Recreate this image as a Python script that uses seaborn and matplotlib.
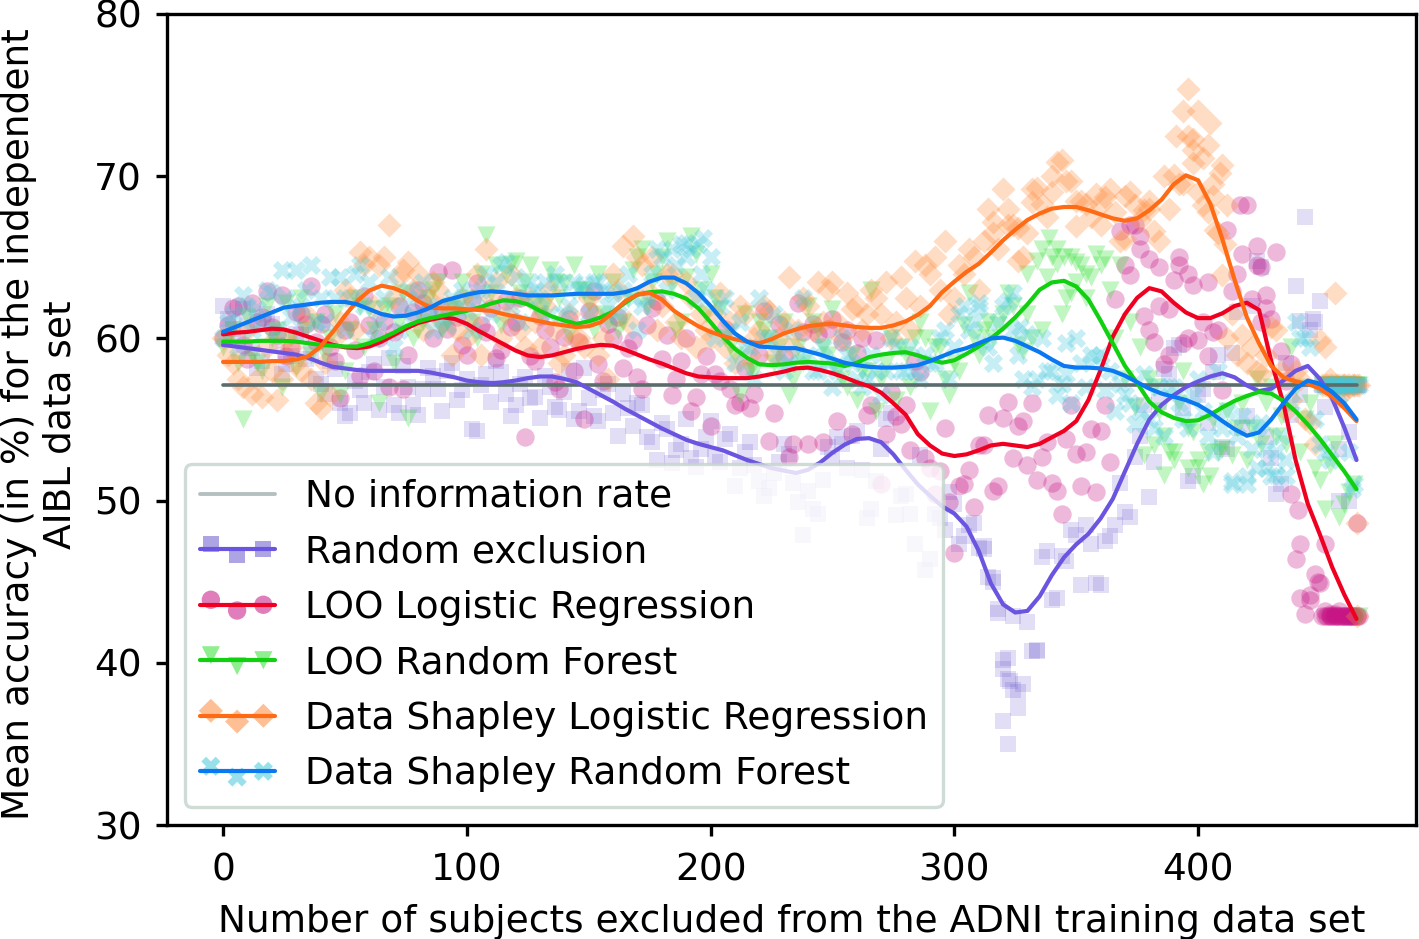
import matplotlib
matplotlib.use('Agg')
import matplotlib.pyplot as plt
import pandas as pd
import seaborn as sns
from matplotlib.legend_handler import HandlerTuple

# ---- smoothed curves, read every 5 subjects
line_x = list(range(0, 470, 5))
rand_line = [59.6,59.5,59.4,59.3,59.2,59.1,59.0,58.8,58.5,58.25,58.15,58.05,58.0,58.0,58.0,58.0,58.0,57.9,57.75,57.6,
             57.4,57.3,57.25,57.3,57.4,57.55,57.65,57.65,57.5,57.3,56.9,56.5,56.1,55.65,55.25,54.85,54.45,54.1,53.75,53.5,
             53.3,53.1,52.8,52.5,52.25,52.0,51.85,51.7,51.9,52.35,52.95,53.45,53.8,53.85,53.6,52.85,51.9,51.0,50.3,49.65,
             49.2,48.4,46.9,44.9,43.6,43.1,43.2,44.1,45.4,46.5,47.3,47.95,48.9,50.1,51.8,53.5,55.0,55.9,56.5,57.0,
             57.35,57.65,57.85,57.6,57.1,56.75,56.9,57.4,58.0,58.3,57.5,56.3,54.5,52.5]
loo_lr_line = [60.25,60.35,60.4,60.5,60.6,60.55,60.35,60.1,59.85,59.6,59.45,59.4,59.5,59.8,60.2,60.6,60.95,61.15,61.3,61.2,
               60.9,60.45,60.05,59.65,59.25,58.95,58.85,58.95,59.15,59.35,59.5,59.6,59.55,59.3,59.0,58.7,58.45,58.15,57.85,57.65,
               57.6,57.55,57.55,57.55,57.65,57.8,57.95,58.15,58.2,58.05,57.85,57.6,57.3,57.05,56.65,56.0,55.3,54.1,53.4,52.9,
               52.75,52.85,53.1,53.4,53.5,53.4,53.3,53.5,53.9,54.3,54.9,56.2,58.05,60.1,61.5,62.5,63.1,62.9,62.2,61.6,
               61.25,61.25,61.55,62.0,62.2,61.75,58.6,56.0,52.5,49.8,47.9,45.9,44.2,42.7]
loo_rf_line = [59.8,59.8,59.8,59.85,59.85,59.85,59.8,59.7,59.6,59.55,59.5,59.5,59.7,60.0,60.35,60.75,61.05,61.25,61.4,61.55,
               61.7,61.9,62.15,62.35,62.3,62.1,61.7,61.35,61.1,60.9,61.05,61.3,61.65,62.2,62.7,62.85,62.9,62.75,62.45,61.85,
               61.0,60.1,59.35,58.8,58.4,58.35,58.4,58.5,58.55,58.5,58.45,58.3,58.5,58.85,59.0,59.1,59.15,58.95,58.7,58.5,
               58.65,59.05,59.5,60.0,60.6,61.3,62.1,63.0,63.45,63.55,63.2,62.4,61.1,59.7,58.3,57.25,56.1,55.45,55.1,54.9,
               54.95,55.3,55.75,56.15,56.45,56.7,56.6,56.15,55.5,54.7,53.8,52.8,51.8,50.7]
shap_lr_line = [58.55,58.55,58.55,58.55,58.6,58.6,58.7,58.9,59.5,60.4,61.4,62.3,62.95,63.25,63.1,62.8,62.3,61.9,61.85,61.85,
                61.8,61.75,61.7,61.5,61.35,61.2,61.05,60.9,60.8,60.7,60.75,61.0,61.6,62.3,62.7,62.8,62.4,61.7,61.2,60.75,
                60.4,60.15,59.95,59.8,59.7,59.95,60.3,60.55,60.75,60.85,60.9,60.8,60.7,60.65,60.65,60.8,61.05,61.45,62.0,62.85,
                63.5,64.1,64.6,65.3,66.05,66.7,67.3,67.7,68.0,68.1,68.1,67.9,67.65,67.4,67.25,67.4,67.9,68.55,69.5,70.05,
                69.75,68.3,66.1,63.6,61.3,59.7,58.3,57.6,57.35,57.2,56.9,56.4,55.7,54.9]
shap_rf_line = [60.4,60.7,61.0,61.3,61.6,61.9,62.0,62.1,62.2,62.25,62.25,62.1,61.8,61.5,61.35,61.4,61.6,61.9,62.3,62.5,
                62.7,62.85,62.9,62.85,62.75,62.65,62.65,62.65,62.7,62.75,62.75,62.75,62.75,62.85,63.1,63.5,63.75,63.75,63.4,62.8,
                62.0,61.1,60.3,59.8,59.5,59.45,59.4,59.4,59.2,59.0,58.75,58.5,58.35,58.25,58.2,58.2,58.25,58.35,58.6,58.9,
                59.2,59.4,59.7,60.0,60.05,59.85,59.5,59.15,58.7,58.3,58.2,58.2,58.15,58.0,57.7,57.3,56.9,56.6,56.4,56.2,
                55.9,55.45,54.9,54.4,54.0,54.2,55.0,56.0,56.9,57.4,57.2,56.7,56.0,55.0]
no_info_x = [0, 465]
no_info = [57.1, 57.1]

# ---- single runs, read every 2 subjects (first the even fours, then the ones between)
point_x = list(range(0, 468, 4)) + list(range(2, 466, 4))
rand_pts = [62.0,60.6,61.8,59.4,58.6,60.9,57.8,58.9,60.2,59.1,
            57.2,58.6,56.0,55.4,56.8,57.9,55.6,58.8,55.4,57.0,
            55.3,58.2,56.9,58.0,56.2,57.5,54.3,57.8,58.6,56.6,
            55.9,57.6,56.4,57.7,55.8,56.7,55.0,58.2,55.2,56.8,
            55.4,56.6,54.6,55.9,53.6,54.8,52.3,53.5,52.6,53.2,
            54.9,52.4,54.1,52.0,53.6,51.2,50.8,52.4,52.9,49.9,
            50.6,49.2,53.3,53.9,52.0,54.3,48.9,51.2,55.0,49.1,
            50.4,47.3,45.7,49.2,48.2,49.8,47.8,48.6,47.2,45.0,
            39.6,42.9,38.7,40.7,46.5,43.9,46.6,48.2,44.8,47.3,
            44.8,47.8,51.1,49.0,54.0,50.2,56.1,57.8,59.6,51.2,
            56.5,54.8,59.0,53.2,61.6,55.2,64.8,53.9,50.4,58.5,
            63.2,67.5,61.0,55.8,57.1,57.1,57.1,
            61.2,59.9,60.8,58.2,61.5,59.6,58.4,60.3,58.7,57.5,
            56.6,58.1,55.2,57.4,56.0,58.4,57.0,55.9,58.3,55.9,
            56.9,57.7,55.5,58.5,56.8,54.4,57.1,56.1,57.9,55.2,
            57.2,56.3,55.1,57.0,55.6,58.0,55.5,56.3,54.9,57.2,
            54.0,55.7,56.0,53.9,52.5,54.4,53.1,55.0,52.1,53.9,
            52.7,53.8,50.9,53.0,52.2,50.3,51.7,53.5,51.1,47.9,
            49.5,51.3,52.6,53.5,54.0,51.9,49.5,53.2,55.4,50.3,
            49.2,52.8,46.4,48.9,50.5,47.3,
            48.5,47.1,45.3,43.1,40.3,38.2,42.5,40.7,46.9,44.0,
            46.3,47.9,48.5,44.9,47.5,48.5,49.3,52.7,55.9,52.4,
            58.1,59.4,55.7,51.5,56.9,57.9,53.3,59.1,54.5,62.0,
            64.4,52.6,51.0,55.3,61.1,60.5,62.3,57.1,50.0,54.2]
rand_extra_x = [322,320,326,324,322,318,320,323,334,316,312,442,447,462,458]
rand_extra_y = [35.0,36.4,37.2,38.3,39.0,43.3,40.2,38.9,40.8,45.2,47.0,56.5,61.2,50.0,53.2]

loo_lr_pts = [60.0,61.9,59.6,62.2,61.3,60.7,62.7,59.4,61.5,63.2,
              60.9,59.5,56.3,61.0,57.7,60.8,60.0,57.0,62.0,59.0,
              63.0,61.6,64.1,60.6,61.3,59.0,63.4,60.4,58.8,62.3,
              61.0,53.9,58.6,60.5,57.3,60.1,58.0,55.0,62.9,57.4,
              60.1,58.2,59.9,56.9,61.9,58.7,56.5,58.6,55.5,57.8,
              54.6,57.4,56.9,56.1,55.7,59.0,53.7,60.9,52.7,62.2,
              53.5,60.3,60.6,54.9,60.5,59.1,55.3,59.9,54.1,55.2,
              55.9,58.6,52.6,50.4,54.5,46.8,51.0,49.6,53.4,50.6,
              55.1,52.6,54.9,56.0,52.7,51.1,49.2,55.9,50.9,54.4,
              54.3,52.4,66.6,63.9,66.3,60.5,64.4,61.8,65.0,64.0,
              59.9,58.9,60.5,66.7,64.0,68.2,65.7,61.9,65.3,57.4,
              46.4,43.0,45.5,43.2,43.0,42.9,42.9,
              60.8,62.0,58.7,61.0,62.9,60.2,58.9,61.6,60.9,59.8,
              61.5,58.6,60.5,59.3,62.6,58.0,61.1,60.4,56.9,61.6,
              62.2,60.0,61.8,64.2,59.6,62.4,60.8,61.9,59.3,60.7,
              62.5,58.9,61.4,59.5,56.9,61.2,59.8,61.7,58.4,60.9,
              61.3,59.4,57.6,60.8,62.3,60.2,57.5,60.0,56.4,58.9,
              57.8,60.6,55.9,58.2,56.6,61.7,55.4,58.9,53.5,60.4,
              60.9,53.6,61.2,59.8,54.1,60.0,55.9,51.0,56.7,54.7,
              53.1,57.9,52.0,51.8,49.9,50.9,
              51.9,53.4,55.3,50.9,56.1,54.6,52.2,51.3,53.6,50.6,
              53.8,52.9,53.0,50.5,55.9,62.4,64.5,67.0,61.4,59.8,
              58.4,63.6,59.7,63.3,61.0,60.4,56.8,62.9,65.2,62.4,
              64.4,61.2,59.2,58.4,47.3,43.9,44.9,43.0,43.2,42.9]
loo_lr_extra_x = [372,376,380,384,388,392,396,404,424,428,441,438,446,452,454,458,462,465,456,460,463,465,417,426,442,449]
loo_lr_extra_y = [67.0,65.5,64.9,62.0,59.0,64.5,60.0,63.5,64.5,62.7,49.4,50.4,44.2,47.3,42.9,42.9,42.9,42.9,42.9,42.9,42.9,48.6,68.2,61.0,44.0,45.0]

loo_rf_pts = [59.5,60.5,55.0,59.0,58.0,60.0,57.0,60.0,62.5,59.0,
              56.6,60.0,56.5,60.5,62.0,61.8,56.0,62.0,61.0,55.1,
              60.5,62.5,63.5,61.0,61.8,62.5,60.0,66.4,64.5,64.0,
              64.8,63.5,62.0,62.0,63.5,63.4,64.5,63.0,60.5,61.5,
              63.5,61.0,64.2,65.5,63.5,65.0,63.3,61.0,66.3,63.0,
              64.0,61.8,59.5,56.5,58.0,61.0,60.0,59.5,56.5,59.5,
              62.0,60.5,59.0,58.0,57.0,56.2,58.0,55.5,58.5,56.2,
              59.0,60.0,60.0,59.5,57.5,58.5,60.8,60.0,60.5,60.0,
              61.5,62.0,59.2,60.0,60.5,65.0,61.5,65.0,64.5,63.8,
              64.5,63.0,64.5,61.0,59.5,57.5,55.5,53.0,56.0,54.5,
              52.0,53.0,53.0,55.5,54.5,52.5,57.5,56.0,54.0,53.5,
              57.0,55.0,52.0,49.5,53.5,49.8,51.0,
              60.0,58.5,61.3,58.5,62.0,60.5,62.2,58.2,60.5,61.0,
              59.0,61.5,58.0,62.5,59.5,60.5,61.8,58.5,62.8,60.0,
              61.0,63.0,60.5,62.0,63.5,61.0,64.0,62.8,60.8,64.6,
              62.8,64.5,61.5,64.2,62.5,60.3,63.0,62.2,64.0,61.0,
              60.5,62.5,65.0,62.0,64.0,66.0,60.5,63.8,65.2,61.5,
              62.5,60.0,59.0,61.5,58.0,60.5,58.5,61.0,57.5,58.5,
              61.0,59.5,61.8,57.5,59.0,58.0,63.0,57.5,60.0,59.5,
              57.0,61.0,55.5,59.5,56.5,58.0,
              62.8,59.0,61.0,60.8,62.8,59.6,61.5,64.8,63.8,65.5,
              62.5,63.5,64.0,65.2,64.9,60.0,57.5,55.8,52.8,57.0,
              54.0,53.0,58.0,54.2,51.0,55.0,53.2,52.8,56.0,54.5,
              53.5,57.0,55.2,59.5,53.0,56.0,51.3,52.2,49.0,50.5]
loo_rf_extra_x = [339,336,342,330,345,350,354,348,382,386,390,396,400,405,466]
loo_rf_extra_y = [66.2,65.5,64.6,64.0,65.0,64.7,62.5,62.8,53.4,51.6,52.5,52.0,52.5,51.5,42.9]

shap_lr_pts = [60.0,58.5,57.0,56.6,56.4,58.0,57.5,59.5,58.0,57.5,
               55.7,56.5,61.0,62.5,65.3,65.0,64.5,67.0,63.8,64.7,
               64.0,62.5,63.0,62.0,60.5,60.0,64.0,65.5,63.5,61.5,
               62.5,59.5,61.0,62.0,60.5,59.0,60.0,59.5,61.5,60.0,
               64.0,65.7,66.3,64.5,65.0,62.0,64.0,60.0,62.5,61.5,
               60.0,62.8,61.0,62.0,59.0,60.5,61.7,60.0,63.8,60.5,
               62.0,63.5,63.0,61.0,62.8,62.0,61.5,62.5,63.5,61.0,
               62.5,64.8,64.5,65.0,66.0,62.5,64.0,65.0,66.0,67.2,
               69.2,67.0,65.0,69.2,68.3,70.0,71.0,69.7,68.5,67.5,
               67.0,69.2,66.0,69.0,67.3,68.5,66.0,68.0,69.5,72.5,
               69.0,67.8,66.5,60.0,59.0,58.5,58.0,59.0,60.5,55.5,
               58.0,55.0,53.5,59.5,62.8,57.1,57.1,
               59.0,57.5,60.5,57.5,59.5,56.2,60.0,58.5,61.5,56.0,
               58.5,60.0,63.0,60.5,64.5,62.0,65.0,62.5,64.2,63.0,
               60.5,63.5,61.0,59.0,62.5,61.0,59.0,62.5,60.0,64.0,
               60.5,62.5,59.5,63.0,58.5,61.5,60.0,62.5,59.0,57.5,
               63.0,61.0,65.0,63.0,60.5,64.0,61.0,63.5,59.5,60.5,
               61.5,59.5,58.5,61.5,60.0,62.0,59.0,61.0,59.5,62.5,
               60.5,61.0,63.5,60.0,61.8,60.5,63.0,61.5,60.0,63.8,
               60.5,62.0,64.0,63.0,61.5,64.5,
               65.5,63.0,68.0,65.5,67.0,64.8,66.5,69.3,67.5,70.9,
               69.7,66.9,68.3,68.9,68.7,67.8,66.1,68.2,67.9,66.6,
               70.0,70.1,69.5,70.8,68.2,68.8,63.9,61.5,60.2,59.5,
               57.8,60.7,58.0,56.2,57.5,54.8,59.9,57.5,56.4,57.0]
shap_lr_extra_x = [396,394,400,405,391,398,404,398,402,410,409,406,412,407,411,465,465,316,322,326,332,340,350,360,370,380]
shap_lr_extra_y = [75.4,74.0,74.0,73.3,72.5,72.3,71.9,71.6,71.1,70.7,70.2,69.5,68.2,66.7,65.8,42.9,48.6,66.5,68.0,66.8,68.4,69.0,68.5,68.3,68.8,68.0]

shap_rf_pts = [60.0,61.5,62.7,60.5,61.0,62.8,64.2,61.3,62.0,64.5,
               62.5,63.8,63.8,62.5,64.5,63.5,61.0,63.8,60.5,63.0,
               62.5,61.5,62.0,60.8,62.0,61.7,62.5,64.0,63.5,64.7,
               63.8,62.5,63.0,63.5,64.0,61.5,63.5,63.3,63.5,63.0,
               62.8,63.0,62.5,62.0,64.0,65.0,65.5,65.8,65.5,64.0,
               65.0,62.0,60.5,61.0,59.5,62.5,60.0,59.0,58.5,59.0,
               59.0,58.0,58.5,58.0,59.0,57.5,57.5,58.0,58.0,59.5,
               58.0,58.0,59.0,58.5,60.5,59.5,62.0,61.0,59.8,58.5,
               62.0,60.5,57.5,57.0,60.0,58.0,57.2,56.0,58.5,59.0,
               59.0,58.0,57.2,56.0,55.5,55.0,57.0,57.0,56.0,54.5,
               57.5,54.0,58.0,55.5,54.0,51.0,54.5,52.0,53.0,51.5,
               61.0,60.0,55.0,53.0,57.1,57.1,51.0,
               61.0,59.5,62.0,61.8,63.0,60.5,62.5,64.2,63.0,61.0,
               61.0,62.5,60.5,64.0,62.0,60.0,62.5,59.5,62.0,61.5,
               63.5,60.5,61.2,62.5,63.0,60.5,63.0,61.5,64.5,62.0,
               61.0,63.5,62.5,61.5,63.5,62.0,63.0,61.5,63.5,62.0,
               61.5,64.0,60.5,62.5,65.5,63.0,64.5,65.0,62.5,63.0,
               60.0,62.5,58.5,59.5,57.5,60.0,61.5,58.0,60.5,62.5,
               58.0,59.5,57.0,60.0,58.5,57.0,59.0,56.5,60.0,58.0,
               59.5,57.5,58.5,60.0,57.5,61.5,
               60.5,62.2,59.5,61.0,62.3,59.0,60.3,57.5,58.0,56.5,
               57.8,60.0,57.0,58.8,56.8,55.5,56.5,54.7,57.8,54.5,
               54.0,57.0,55.0,56.5,55.5,53.0,54.5,51.0,55.2,53.2,
               54.8,51.5,54.0,56.0,60.0,59.5,53.5,52.5,56.5,53.0]
shap_rf_extra_x = [190,195,197,310,324,346,327,420,424,428,432,436,414,463]
shap_rf_extra_y = [65.9,65.8,66.2,61.9,62.8,59.7,60.7,51.5,52.0,53.2,51.6,52.5,51.2,50.7]

# shared flat tail at the no information rate
tail_x = [451,452,453,454,455,456,457,458,459,460,461,462,463,464,465,466]
tail_y = [57.1] * len(tail_x)
tail_red_y = [42.9] * len(tail_x)

names = ['No information rate', 'Random exclusion', 'LOO Logistic Regression', 'LOO Random Forest',
         'Data Shapley Logistic Regression', 'Data Shapley Random Forest']

series = [
    (rand_pts, rand_extra_x, rand_extra_y, rand_line, 's', '#6a5acd', '#6a55e0', tail_y),
    (loo_lr_pts, loo_lr_extra_x, loo_lr_extra_y, loo_lr_line, 'o', '#c71585', '#f00020', tail_red_y),
    (loo_rf_pts, loo_rf_extra_x, loo_rf_extra_y, loo_rf_line, 'v', '#33e033', '#10d010', tail_y),
    (shap_lr_pts, shap_lr_extra_x, shap_lr_extra_y, shap_lr_line, 'D', '#ff8c3c', '#ff6a14', tail_y),
    (shap_rf_pts, shap_rf_extra_x, shap_rf_extra_y, shap_rf_line, 'X', '#45c8dc', '#0a78f0', tail_y),
]
sizes = {'s': 135, 'o': 175, 'v': 170, 'D': 150, 'X': 190}
alphas = {'s': 0.2, 'o': 0.3, 'v': 0.3, 'D': 0.3, 'X': 0.3}

sns.set_theme(style='ticks')
plt.rcParams['font.family'] = 'DejaVu Sans'
plt.rcParams['text.color'] = 'black'

fig = plt.figure(figsize=(14.19, 9.39), dpi=100)
ax = fig.add_axes([167 / 1419, 1 - 825 / 939, 1249 / 1419, 811 / 939])

handles = []
for pts, ex, ey, line, mark, pcol, lcol, ty in series:
    df = pd.DataFrame({'x': point_x + ex + tail_x, 'y': pts + ey + ty})
    sns.scatterplot(data=df, x='x', y='y', marker=mark, s=sizes[mark], color=pcol, alpha=alphas[mark],
                    linewidth=0, ax=ax, zorder=2)

sns.lineplot(x=no_info_x, y=no_info, color='#5a6c6c', lw=2.6, ax=ax, zorder=3, errorbar=None)
for pts, ex, ey, line, mark, pcol, lcol, ty in series:
    sns.lineplot(x=line_x, y=line, color=lcol, lw=3, ax=ax, zorder=3, errorbar=None)
    proxy_line = plt.Line2D([], [], color=lcol, lw=3)
    proxy_pts = ax.scatter([], [], marker=mark, s=sizes[mark], color=pcol, alpha=0.55, linewidth=0)
    handles.append((proxy_pts, proxy_line))

ax.set_xlim(-23, 489.4)
ax.set_ylim(30, 80)
ax.set_xticks([0, 100, 200, 300, 400])
ax.set_yticks([30, 40, 50, 60, 70, 80])
ax.tick_params(labelsize=27, length=8, width=2.4, color='black', labelcolor='black')
ax.tick_params(axis='x', pad=12)
ax.tick_params(axis='y', pad=10)
for s in ax.spines.values():
    s.set_linewidth(2.4)
    s.set_color('black')
ax.set_xlabel('Number of subjects excluded from the ADNI training data set', fontsize=27, color='black', labelpad=11)
ax.set_ylabel('Mean accuracy (in %) for the independent\nAIBL data set', fontsize=27, color='black', labelpad=11, y=0.494)

grey = plt.Line2D([], [], color='#b4c0c0', lw=2.8)
leg = ax.legend([grey] + handles, names, fontsize=27, loc='lower left', scatterpoints=3,
                scatteryoffsets=[0.69, 0.28, 0.5], handler_map={tuple: HandlerTuple(ndivide=1)},
                framealpha=0.8, edgecolor='#c4d4cc', fancybox=True, labelspacing=0.52, borderaxespad=0.47)
leg.get_frame().set_linewidth(2.4)

fig.savefig('out.png', dpi=100)
